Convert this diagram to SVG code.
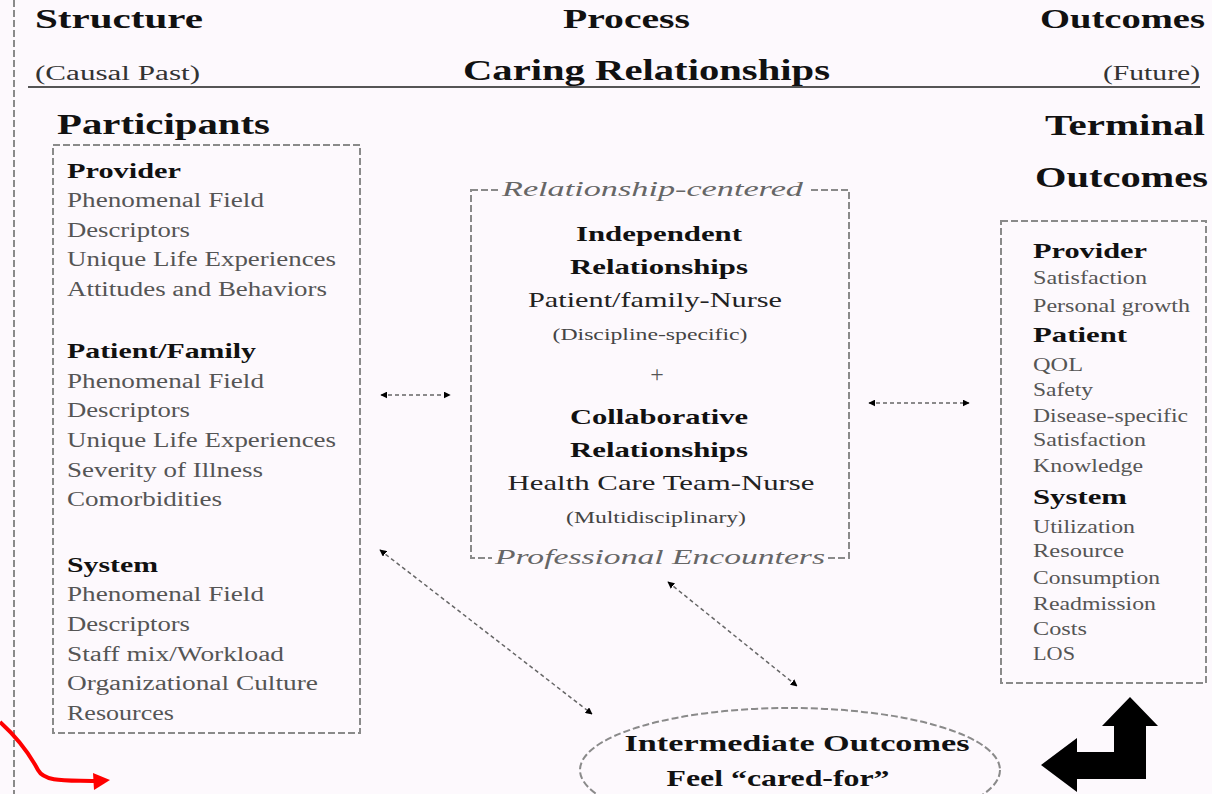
<svg xmlns="http://www.w3.org/2000/svg" width="1212" height="794" viewBox="0 0 1212 794">
<defs>
<style>
text{font-family:"Liberation Serif","Times New Roman",serif;}
.h{font-weight:bold;fill:#111;}
.b{font-weight:bold;fill:#111;font-size:21px;}
.r{fill:#555;font-size:20px;}
.rs{fill:#555;font-size:18px;}
.box{fill:none;stroke:#8a8a8a;stroke-width:2;stroke-dasharray:7 3;}
.con{fill:none;stroke:#666;stroke-width:1.5;stroke-dasharray:4 3;}
.it{font-style:italic;fill:#666;font-size:22px;}
</style>
<marker id="ah" viewBox="0 0 10 10" refX="9" refY="5" markerWidth="7" markerHeight="7" orient="auto-start-reverse" markerUnits="userSpaceOnUse">
<path d="M0,0 L10,5 L0,10 z" fill="#000"/>
</marker>
</defs>
<rect width="1212" height="794" fill="#fdf9fd"/>
<line x1="14" y1="0" x2="14" y2="794" stroke="#8a8a8a" stroke-width="2" stroke-dasharray="7 3"/>

<g id="header">
<text class="h" x="35" y="28" font-size="28" textLength="168" lengthAdjust="spacingAndGlyphs">Structure</text>
<text class="h" x="563" y="28" font-size="28" textLength="127" lengthAdjust="spacingAndGlyphs">Process</text>
<text class="h" x="1040" y="28" font-size="28" textLength="165" lengthAdjust="spacingAndGlyphs">Outcomes</text>
<text x="35" y="80" font-size="20" fill="#333" textLength="165" lengthAdjust="spacingAndGlyphs">(Causal Past)</text>
<text class="h" x="463" y="80" font-size="30" textLength="367" lengthAdjust="spacingAndGlyphs">Caring Relationships</text>
<text x="1103" y="80" font-size="20" fill="#333" textLength="97" lengthAdjust="spacingAndGlyphs">(Future)</text>
<line x1="28" y1="87" x2="1200" y2="87" stroke="#555" stroke-width="2"/>
<text class="h" x="57" y="134" font-size="30" textLength="213" lengthAdjust="spacingAndGlyphs">Participants</text>
<text class="h" x="1045" y="135" font-size="30" textLength="160" lengthAdjust="spacingAndGlyphs">Terminal</text>
<text class="h" x="1035" y="187" font-size="30" textLength="173" lengthAdjust="spacingAndGlyphs">Outcomes</text>
</g>

<g id="participants">
<rect class="box" x="53" y="145" width="307" height="588"/>
<text class="b" x="67" y="178" textLength="114" lengthAdjust="spacingAndGlyphs">Provider</text>
<text class="r" x="67" y="207" textLength="197" lengthAdjust="spacingAndGlyphs">Phenomenal Field</text>
<text class="r" x="67" y="237" textLength="123" lengthAdjust="spacingAndGlyphs">Descriptors</text>
<text class="r" x="67" y="266" textLength="269" lengthAdjust="spacingAndGlyphs">Unique Life Experiences</text>
<text class="r" x="67" y="296" textLength="260" lengthAdjust="spacingAndGlyphs">Attitudes and Behaviors</text>
<text class="b" x="67" y="358" textLength="189" lengthAdjust="spacingAndGlyphs">Patient/Family</text>
<text class="r" x="67" y="388" textLength="197" lengthAdjust="spacingAndGlyphs">Phenomenal Field</text>
<text class="r" x="67" y="417" textLength="123" lengthAdjust="spacingAndGlyphs">Descriptors</text>
<text class="r" x="67" y="447" textLength="269" lengthAdjust="spacingAndGlyphs">Unique Life Experiences</text>
<text class="r" x="67" y="477" textLength="196" lengthAdjust="spacingAndGlyphs">Severity of Illness</text>
<text class="r" x="67" y="506" textLength="155" lengthAdjust="spacingAndGlyphs">Comorbidities</text>
<text class="b" x="67" y="572" textLength="91" lengthAdjust="spacingAndGlyphs">System</text>
<text class="r" x="67" y="601" textLength="197" lengthAdjust="spacingAndGlyphs">Phenomenal Field</text>
<text class="r" x="67" y="631" textLength="123" lengthAdjust="spacingAndGlyphs">Descriptors</text>
<text class="r" x="67" y="661" textLength="217" lengthAdjust="spacingAndGlyphs">Staff mix/Workload</text>
<text class="r" x="67" y="690" textLength="251" lengthAdjust="spacingAndGlyphs">Organizational Culture</text>
<text class="r" x="67" y="720" textLength="107" lengthAdjust="spacingAndGlyphs">Resources</text>
</g>

<g id="relationships">
<rect class="box" x="471" y="190" width="378" height="368"/>
<rect x="498" y="178" width="310" height="24" fill="#fdf9fd"/>
<rect x="492" y="546" width="336" height="24" fill="#fdf9fd"/>
<text class="it" x="502" y="196" textLength="301" lengthAdjust="spacingAndGlyphs">Relationship-centered</text>
<text class="it" x="495" y="564" textLength="330" lengthAdjust="spacingAndGlyphs">Professional Encounters</text>
<g text-anchor="middle">
<text class="b" x="659" y="241" font-size="22" textLength="166" lengthAdjust="spacingAndGlyphs">Independent</text>
<text class="b" x="659" y="274" font-size="22" textLength="178" lengthAdjust="spacingAndGlyphs">Relationships</text>
<text x="655" y="307" font-size="22" fill="#222" textLength="254" lengthAdjust="spacingAndGlyphs">Patient/family-Nurse</text>
<text x="650" y="340" font-size="16" fill="#444" textLength="195" lengthAdjust="spacingAndGlyphs">(Discipline-specific)</text>
<text x="657" y="382" font-size="24" fill="#555">+</text>
<text class="b" x="659" y="424" font-size="22" textLength="178" lengthAdjust="spacingAndGlyphs">Collaborative</text>
<text class="b" x="659" y="457" font-size="22" textLength="178" lengthAdjust="spacingAndGlyphs">Relationships</text>
<text x="661" y="490" font-size="22" fill="#222" textLength="307" lengthAdjust="spacingAndGlyphs">Health Care Team-Nurse</text>
<text x="656" y="523" font-size="16" fill="#444" textLength="180" lengthAdjust="spacingAndGlyphs">(Multidisciplinary)</text>
</g>
</g>

<g id="terminal-outcomes">
<rect class="box" x="1001" y="221" width="205" height="462"/>
<text class="b" x="1033" y="258" font-size="20" textLength="114" lengthAdjust="spacingAndGlyphs">Provider</text>
<text class="rs" x="1033" y="284" textLength="114" lengthAdjust="spacingAndGlyphs">Satisfaction</text>
<text class="rs" x="1033" y="312" textLength="157" lengthAdjust="spacingAndGlyphs">Personal growth</text>
<text class="b" x="1033" y="342" font-size="20" textLength="94" lengthAdjust="spacingAndGlyphs">Patient</text>
<text class="rs" x="1033" y="371" textLength="50" lengthAdjust="spacingAndGlyphs">QOL</text>
<text class="rs" x="1033" y="396" textLength="60" lengthAdjust="spacingAndGlyphs">Safety</text>
<text class="rs" x="1033" y="422" textLength="155" lengthAdjust="spacingAndGlyphs">Disease-specific</text>
<text class="rs" x="1033" y="446" textLength="113" lengthAdjust="spacingAndGlyphs">Satisfaction</text>
<text class="rs" x="1033" y="472" textLength="110" lengthAdjust="spacingAndGlyphs">Knowledge</text>
<text class="b" x="1033" y="504" font-size="20" textLength="94" lengthAdjust="spacingAndGlyphs">System</text>
<text class="rs" x="1033" y="533" textLength="102" lengthAdjust="spacingAndGlyphs">Utilization</text>
<text class="rs" x="1033" y="557" textLength="91" lengthAdjust="spacingAndGlyphs">Resource</text>
<text class="rs" x="1033" y="584" textLength="127" lengthAdjust="spacingAndGlyphs">Consumption</text>
<text class="rs" x="1033" y="610" textLength="123" lengthAdjust="spacingAndGlyphs">Readmission</text>
<text class="rs" x="1033" y="635" textLength="54" lengthAdjust="spacingAndGlyphs">Costs</text>
<text class="rs" x="1033" y="660" textLength="42" lengthAdjust="spacingAndGlyphs">LOS</text>
</g>

<g id="intermediate-outcomes">
<ellipse cx="790" cy="770" rx="210" ry="62" fill="none" stroke="#8a8a8a" stroke-width="2" stroke-dasharray="7 3"/>
<text class="h" x="797" y="751" font-size="24" text-anchor="middle" textLength="345" lengthAdjust="spacingAndGlyphs">Intermediate Outcomes</text>
<text class="h" x="778" y="786" font-size="24" text-anchor="middle" textLength="223" lengthAdjust="spacingAndGlyphs">Feel “cared-for”</text>
</g>

<g id="connectors">
<line class="con" x1="381" y1="395" x2="450" y2="395" marker-start="url(#ah)" marker-end="url(#ah)"/>
<line class="con" x1="869" y1="403" x2="969" y2="403" marker-start="url(#ah)" marker-end="url(#ah)"/>
<line class="con" x1="380" y1="550" x2="592" y2="714" marker-start="url(#ah)" marker-end="url(#ah)"/>
<line class="con" x1="668" y1="582" x2="797" y2="686" marker-start="url(#ah)" marker-end="url(#ah)"/>
</g>

<g id="bent-arrow">
<path d="M1130,697 L1158,726 L1146,726 L1146,779 L1077,779 L1077,792 L1041,765 L1077,738 L1077,752 L1114,752 L1114,726 L1102,726 Z" fill="#000"/>
</g>

<g id="red-arrow">
<path d="M0,722 C20,740 30,755 38,770 C45,783 70,780 95,781" fill="none" stroke="#f00" stroke-width="4"/>
<path d="M93,773 L110,780 L94,790 Z" fill="#f00"/>
</g>
</svg>
